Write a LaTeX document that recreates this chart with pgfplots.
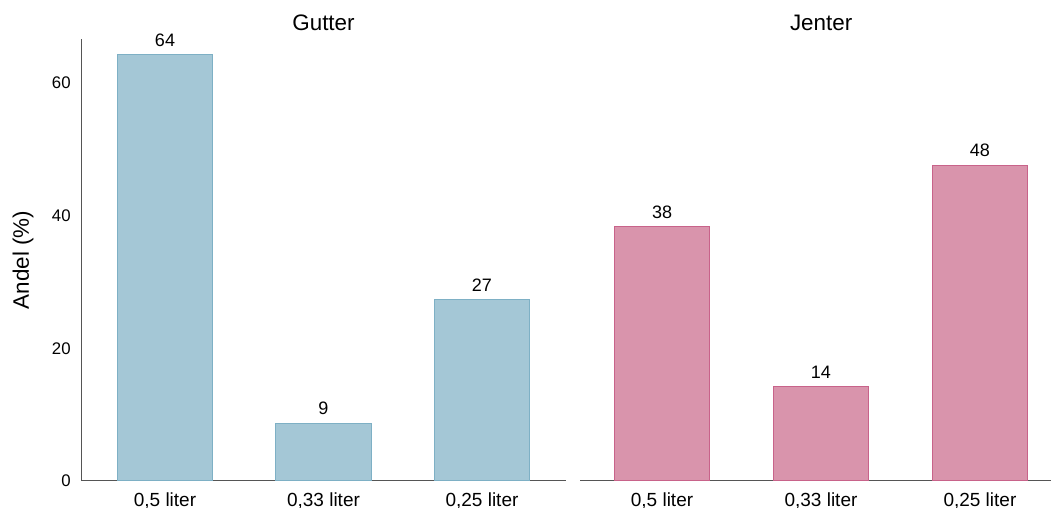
\documentclass[border=0pt]{standalone}
\usepackage{fontspec}
\setmainfont{Liberation Sans}
\usepackage{pgfplots}
\pgfplotsset{compat=1.18}

\definecolor{guttfill}{HTML}{A4C7D6}
\definecolor{guttline}{HTML}{7EB0C5}
\definecolor{jentfill}{HTML}{D994AC}
\definecolor{jentline}{HTML}{C8638A}
\definecolor{axisgray}{HTML}{555555}

\pgfplotsset{
  /pgf/number format/assume math mode=true,
  panel/.style={
    scale only axis,
    height=221pt,
    ymin=0, ymax=66.6,
    ybar, bar width=0.6,
    xtick={1,2,3},
    xticklabels={{0,5 liter},{0,33 liter},{0,25 liter}},
    ytick={0,20,40,60},
    major tick length=0pt,
    axis line style={draw=axisgray, line width=0.5pt},
    xticklabel style={font=\fontsize{9.5}{11}\selectfont, inner sep=0pt, anchor=north, yshift=-5.5pt},
    yticklabel style={font=\fontsize{8.4}{10}\selectfont, inner sep=0pt, anchor=east, xshift=-5pt},
    every axis title/.style={font=\fontsize{11.2}{13}\selectfont, anchor=base, yshift=4pt},
    nodes near coords={\pgfmathprintnumber[fixed,precision=0]{\pgfplotspointmeta}},
    every node near coord/.append style={font=\fontsize{9}{11}\selectfont, inner sep=0pt, anchor=south, yshift=4pt, text=black},
  },
}

\begin{document}
\begin{tikzpicture}
\useasboundingbox (-40.5pt,-13.5pt) rectangle (485pt,240.5pt);

% Gutter
\begin{axis}[panel,
    at={(0,0)}, anchor=south west,
    width=242.5pt,
    xmin=0.47, xmax=3.53,
    axis lines*=left,
    title={Gutter},
    title style={at={(axis description cs:0.5,1)}},
    ylabel={Andel (\%)},
    every axis y label/.style={font=\fontsize{11.2}{13}\selectfont, at={(axis description cs:0,0.5)}, rotate=90, anchor=south, inner sep=0pt, yshift=23.5pt},
  ]
  \addplot[fill=guttfill, draw=guttline, line width=0.5pt] coordinates {
    (1,64.2) (2,8.7) (3,27.3) };
\end{axis}

% Jenter
\begin{axis}[panel,
    at={(249.5pt,0)}, anchor=south west,
    width=235.5pt,
    xmin=0.484, xmax=3.447,
    axis x line*=bottom, axis y line=none,
    title={Jenter},
    title style={at={(axis description cs:0.512,1)}},
  ]
  \addplot[fill=jentfill, draw=jentline, line width=0.5pt] coordinates {
    (1,38.3) (2,14.2) (3,47.6) };
\end{axis}
\end{tikzpicture}
\end{document}
